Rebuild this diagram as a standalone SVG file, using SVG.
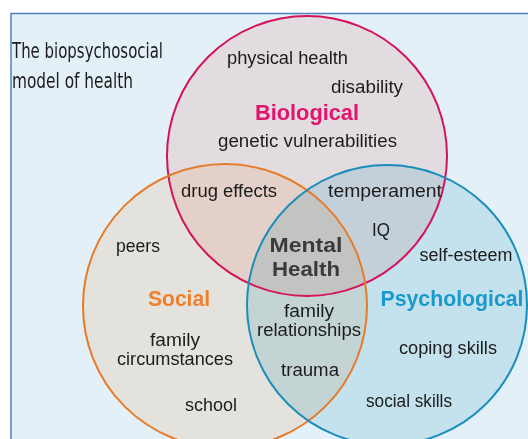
<svg xmlns="http://www.w3.org/2000/svg" width="528" height="439" viewBox="0 0 528 439">
<style>
.t{font-family:"Liberation Sans",Arial,sans-serif;font-size:18.3px;fill:#1c1c1c;text-anchor:middle}
.h{font-family:"Liberation Sans",Arial,sans-serif;font-size:21.8px;font-weight:bold;text-anchor:middle}
.m{font-family:"Liberation Sans",Arial,sans-serif;font-size:20.5px;font-weight:bold;text-anchor:middle;fill:#3a3a3a}
.fill{stroke:none;mix-blend-mode:multiply}
.ring{fill:none;stroke-width:2}
.title{font-family:"Liberation Sans Narrow","DejaVu Sans Condensed","Liberation Sans",sans-serif;font-size:20.5px;fill:#1c1c1c}
</style>
<g id="backdrop">
<rect x="0" y="0" width="528" height="439" fill="#ffffff"/>
<rect x="11" y="13.5" width="530" height="440" fill="#e3f0f7" stroke="#4f81bd" stroke-width="1.5"/>
<circle class="fill" cx="307" cy="156" r="140" fill="#feeae9"/>
<circle class="fill" cx="225" cy="306" r="142" fill="#fff1e4"/>
<circle class="fill" cx="387" cy="305" r="140" fill="#dcf0f6"/>
</g>
<g id="title">
<text class="title" x="12" y="58" textLength="151" lengthAdjust="spacingAndGlyphs">The biopsychosocial</text>
<text class="title" x="12" y="88" textLength="121" lengthAdjust="spacingAndGlyphs">model of health</text>
</g>
<g id="biological">
<circle class="ring" cx="307" cy="156" r="140" stroke="#d4145a"/>
<text class="t" x="287.5" y="64" textLength="121" lengthAdjust="spacingAndGlyphs">physical health</text>
<text class="t" x="367" y="93" textLength="72" lengthAdjust="spacingAndGlyphs">disability</text>
<text class="h" x="307" y="120" fill="#e0156b" textLength="104" lengthAdjust="spacingAndGlyphs">Biological</text>
<text class="t" x="307.5" y="147" textLength="179" lengthAdjust="spacingAndGlyphs">genetic vulnerabilities</text>
</g>
<g id="social">
<circle class="ring" cx="225" cy="306" r="142" stroke="#e57c2a"/>
<text class="t" x="138" y="252" textLength="44" lengthAdjust="spacingAndGlyphs">peers</text>
<text class="h" x="179" y="306" fill="#f07f2c" textLength="62" lengthAdjust="spacingAndGlyphs">Social</text>
<text class="t" x="175" y="346" textLength="50" lengthAdjust="spacingAndGlyphs">family</text>
<text class="t" x="175" y="365" textLength="116" lengthAdjust="spacingAndGlyphs">circumstances</text>
<text class="t" x="211" y="411" textLength="52" lengthAdjust="spacingAndGlyphs">school</text>
</g>
<g id="psychological">
<circle class="ring" cx="387" cy="305" r="140" stroke="#1b8dbb"/>
<text class="t" x="466" y="261" textLength="93" lengthAdjust="spacingAndGlyphs">self-esteem</text>
<text class="h" x="452" y="306" fill="#1a9acb" textLength="143" lengthAdjust="spacingAndGlyphs">Psychological</text>
<text class="t" x="448" y="354" textLength="98" lengthAdjust="spacingAndGlyphs">coping skills</text>
<text class="t" x="409" y="407" textLength="86" lengthAdjust="spacingAndGlyphs">social skills</text>
</g>
<g id="bio-social">
<text class="t" x="229" y="197" textLength="96" lengthAdjust="spacingAndGlyphs">drug effects</text>
</g>
<g id="bio-psych">
<text class="t" x="385" y="197" textLength="114" lengthAdjust="spacingAndGlyphs">temperament</text>
<text class="t" x="381" y="236" textLength="18" lengthAdjust="spacingAndGlyphs">IQ</text>
</g>
<g id="social-psych">
<text class="t" x="309" y="317" textLength="50" lengthAdjust="spacingAndGlyphs">family</text>
<text class="t" x="309" y="336" textLength="104" lengthAdjust="spacingAndGlyphs">relationships</text>
<text class="t" x="310" y="376" textLength="58" lengthAdjust="spacingAndGlyphs">trauma</text>
</g>
<g id="mental-health">
<text class="m" x="306" y="252" textLength="73" lengthAdjust="spacingAndGlyphs">Mental</text>
<text class="m" x="306" y="276" textLength="68" lengthAdjust="spacingAndGlyphs">Health</text>
</g>
</svg>
